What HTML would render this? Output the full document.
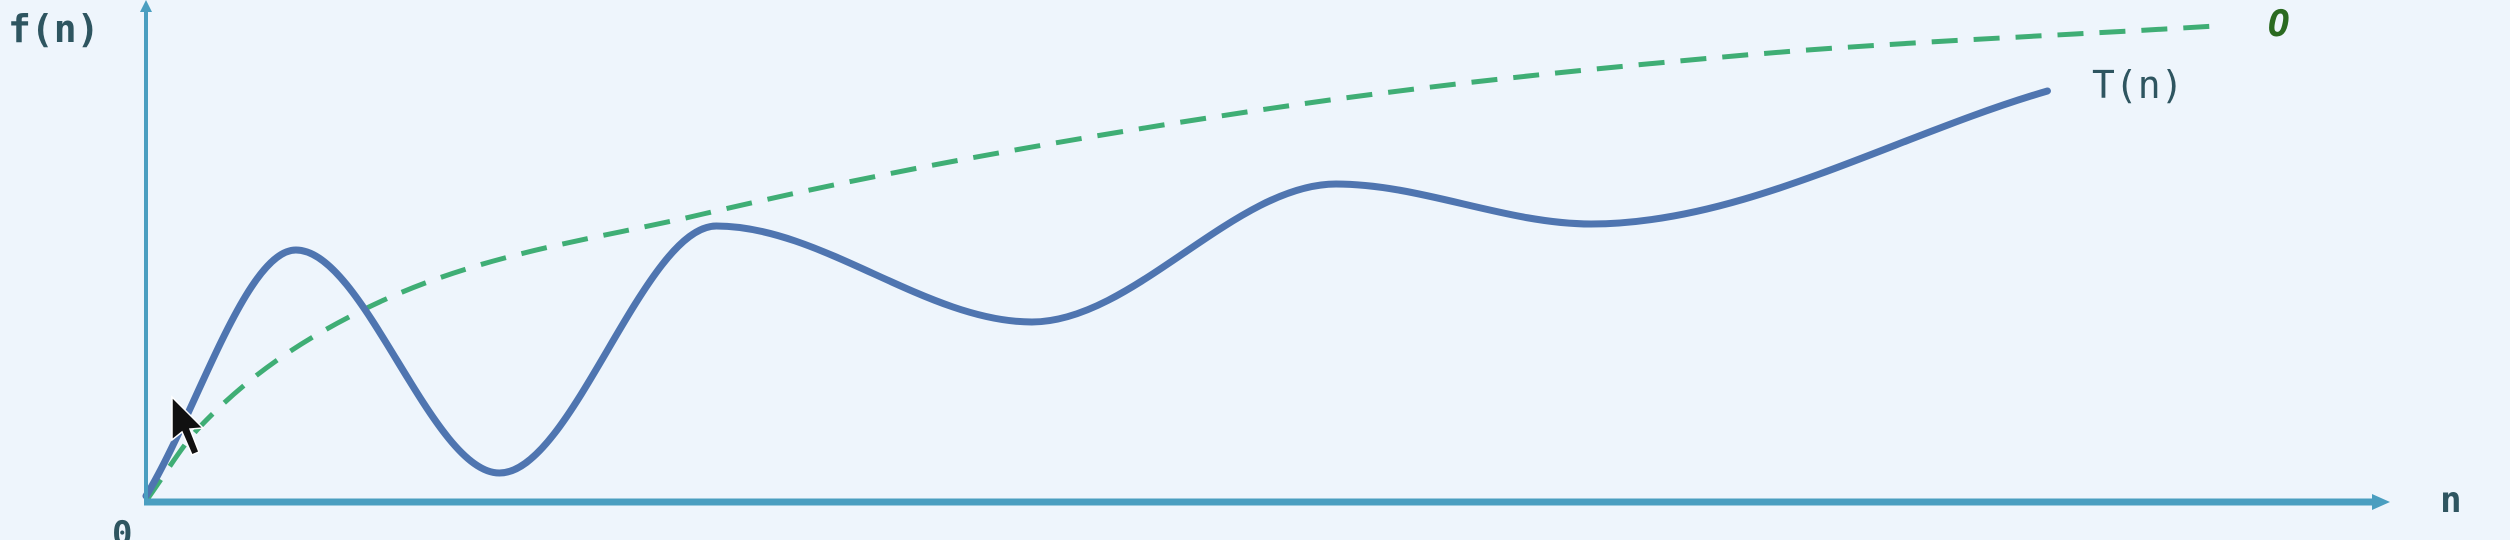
<!DOCTYPE html>
<html><head><meta charset="utf-8"><style>
html,body{margin:0;padding:0;background:#eef5fc;}
svg{display:block;}
text{font-family:"DejaVu Sans Mono","Liberation Mono",monospace;}
</style></head><body>
<svg id="chart" width="2510" height="540" viewBox="0 0 2510 540">
<rect x="0" y="0" width="2510" height="540" fill="#eef5fc"/>
<g id="marks"></g>
<line x1="146" y1="502" x2="146" y2="8" stroke="#4a9ec0" stroke-width="4"/>
<polygon points="146,0 140,12 152,12" fill="#4a9ec0"/>
<line x1="144" y1="502" x2="2375" y2="502" stroke="#4a9ec0" stroke-width="7"/>
<polygon points="2390,502 2372,494 2372,510" fill="#4a9ec0"/>
<text x="8" y="42" font-size="38" font-weight="bold" fill="#2e5560">f(n)</text>
<text x="2440" y="512" font-size="36" font-weight="bold" fill="#2e5560">n</text>
<text x="112" y="545" font-size="34" font-weight="bold" fill="#2e5560">0</text>
<text x="2092" y="98" font-size="38" fill="#2e5560">T(n)</text>
<text x="2268" y="36" font-size="36" font-style="italic" font-weight="bold" fill="#2a6a20">O</text>
<polygon points="172,397 172,440 182,432 192,455 199,452 190,429 203,428" fill="#111" stroke="#fff" stroke-width="1.5"/>
</svg>
<script>
const tN = [0, 6.7, 15.8, 25.5, 39.6, 53.2, 64.6, 85];
const tValues = [1, 50.2, 5.6, 55, 35.8, 63.4, 55.4, 82];
const oN = [0, 2.4, 9.6, 24.9, 49.5, 71, 92.5];
const oValues = [0, 14.8, 38, 57.4, 78, 89, 95];

function xScale(n){ return 146 + n * 22.37; }
function yScale(v){ return 501 - v * 5; }

function monotonePath(xs, ys){
  const n = xs.length, d = [], m = [];
  for(let i=0;i<n-1;i++) d.push((ys[i+1]-ys[i])/(xs[i+1]-xs[i]));
  m[0]=d[0]; m[n-1]=d[n-2];
  for(let i=1;i<n-1;i++){ m[i] = (d[i-1]*d[i] <= 0) ? 0 : (d[i-1]+d[i])/2; }
  for(let i=0;i<n-1;i++){
    if(d[i]===0){m[i]=0;m[i+1]=0;continue;}
    const a=m[i]/d[i], b=m[i+1]/d[i], s=a*a+b*b;
    if(s>9){const t=3/Math.sqrt(s); m[i]=t*a*d[i]; m[i+1]=t*b*d[i];}
  }
  let p = 'M' + xs[0] + ',' + ys[0];
  for(let i=0;i<n-1;i++){
    const h=(xs[i+1]-xs[i])/3;
    p += ' C' + (xs[i]+h) + ',' + (ys[i]+m[i]*h) + ' ' + (xs[i+1]-h) + ',' + (ys[i+1]-m[i+1]*h) + ' ' + xs[i+1] + ',' + ys[i+1];
  }
  return p;
}

const g = document.getElementById('marks');
const NS = 'http://www.w3.org/2000/svg';

const oPath = document.createElementNS(NS, 'path');
oPath.setAttribute('d', monotonePath(oN.map(xScale), oValues.map(yScale)));
oPath.setAttribute('fill', 'none');
oPath.setAttribute('stroke', '#3fae75');
oPath.setAttribute('stroke-width', '5');
oPath.setAttribute('stroke-dasharray', '26 16');


g.appendChild(oPath);

const tPath = document.createElementNS(NS, 'path');
tPath.setAttribute('d', monotonePath(tN.map(xScale), tValues.map(yScale)));
tPath.setAttribute('fill', 'none');
tPath.setAttribute('stroke', '#4f75b0');
tPath.setAttribute('stroke-width', '7');
tPath.setAttribute('stroke-linecap', 'round');


g.appendChild(tPath);
</script>
</body></html>
